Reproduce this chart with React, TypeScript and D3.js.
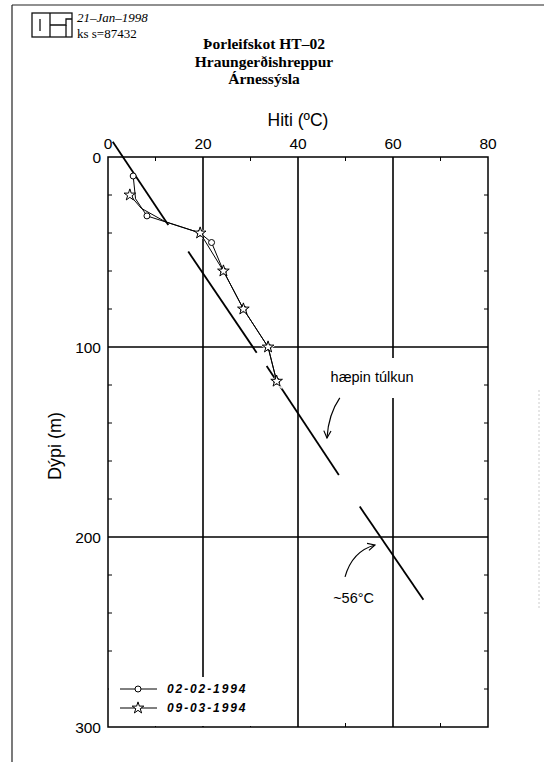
import React from "react";
import * as d3 from "d3";

// ---- data ----
const tempA = [5.3, 5.8, 8.2, 19.4, 21.8, 24.3, 28.5, 33.7, 35.5];
const depthA = [10, 22, 31, 40, 45, 60, 80, 100, 118];
const markA = [true, false, true, true, true, true, true, true, true];
const tempB = [4.6, 7.0, 12.0, 19.4, 24.3, 28.5, 33.7, 35.5];
const depthB = [20, 27, 34, 40, 60, 80, 100, 118];
const markB = [true, false, false, true, true, true, true, true];
const seriesLabels = ["02-02-1994", "09-03-1994"];

// interpretation line segments [start, end]
const fitTemp = [[1, 12.7], [16.9, 31.3], [33.4, 48.6], [53, 66.4]];
const fitDepth = [[-8, 35.8], [49.8, 103], [110, 167.4], [184, 233]];

const xTicksMajor = [0, 20, 40, 60, 80];
const yTicksMajor = [0, 100, 200, 300];
const xGrid = [20, 40, 60];
const yGrid = [100, 200];

const titleLines = ["Þorleifskot  HT–02", "Hraungerðishreppur", "Árnessýsla"];
const xLabel = "Hiti (ºC)";
const yLabel = "Dýpi (m)";
const headerDate = "21–Jan–1998";
const headerId = "ks s=87432";

// annotations in data units [temp, depth]
const note1 = { text: "hæpin túlkun", at: [55.6, 116], arrow: [[48.8, 126.8], [46.4, 135.5], [46.1, 147.9]] };
const note2 = { text: "~56°C", at: [47.4, 232], arrow: [[49.9, 221], [51.4, 207.5], [56.2, 204.2]] };

const SANS = "'Liberation Sans', Arial, sans-serif";
const SERIF = "'Liberation Serif', 'Times New Roman', serif";

export default function App() {
  const x = d3.scaleLinear().domain([0, 80]).range([108, 488]);
  const y = d3.scaleLinear().domain([0, 300]).range([157, 727]);
  const [x0, x1] = x.range();
  const [y0, y1] = y.range();

  const line = d3.line<[number, number]>().x((d) => x(d[0])).y((d) => y(d[1]));
  const ptsA: [number, number][] = tempA.map((t, i) => [t, depthA[i]]);
  const ptsB: [number, number][] = tempB.map((t, i) => [t, depthB[i]]);

  const star = d3.symbol().type(d3.symbolStar).size(42)()!;
  const starHalo = d3.symbol().type(d3.symbolStar).size(110)()!;

  const xMinor = d3.range(10, 80, 20);
  const yMinor = d3.range(20, 300, 20).filter((v) => v % 100 !== 0);

  const arrowPath = (pts: number[][]) =>
    `M${x(pts[0][0])},${y(pts[0][1])} Q${x(pts[1][0])},${y(pts[1][1])} ${x(pts[2][0])},${y(pts[2][1])}`;

  return (
    <svg width={544} height={762} style={{ position: "absolute", left: 0, top: 0, background: "#fff" }}>
      <defs>
        <marker id="ah" viewBox="0 0 10 10" refX="9" refY="5" markerWidth="9" markerHeight="9" orient="auto" markerUnits="userSpaceOnUse">
          <path d="M1,1 L9,5 L1,9" fill="none" stroke="#000" strokeWidth={1.3} />
        </marker>
      </defs>
      {/* page frame */}
      <line x1={12} y1={5} x2={544} y2={5} stroke="#222" strokeWidth={1.2} />
      <line x1={12} y1={5} x2={12} y2={762} stroke="#222" strokeWidth={1.2} />
      <line x1={539} y1={390} x2={539} y2={610} stroke="#ccc" strokeWidth={1} strokeDasharray="2,2" />

      {/* logo */}
      <g stroke="#111" strokeWidth={1.3} fill="none">
        <rect x={32} y={13} width={40} height={24} />
        <line x1={50} y1={13} x2={50} y2={37} />
        <line x1={40} y1={19} x2={40} y2={31} />
        <polyline points="72,19 66,19 66,25 50,25" />
        <polyline points="66,25 66,37" />
      </g>
      <text x={77} y={22} fontFamily={SERIF} fontStyle="italic" fontSize={13}>{headerDate}</text>
      <text x={77} y={38} fontFamily={SERIF} fontSize={13}>{headerId}</text>

      {/* title */}
      {titleLines.map((t, i) => (
        <text key={i} x={264} y={49 + i * 17.5} textAnchor="middle" fontFamily={SERIF} fontWeight="bold" fontSize={15.5}>{t}</text>
      ))}

      {/* axis title */}
      <text x={x(40)} y={126} textAnchor="middle" fontFamily={SANS} fontSize={17.5}>{xLabel}</text>
      <text transform={`translate(61,446) rotate(-90)`} textAnchor="middle" fontFamily={SANS} fontSize={18}>{yLabel}</text>

      {/* tick labels */}
      {xTicksMajor.map((v) => (
        <text key={v} x={x(v)} y={149} textAnchor="middle" fontFamily={SANS} fontSize={15.5}>{v}</text>
      ))}
      {yTicksMajor.map((v) => (
        <text key={v} x={101} y={y(v) + 5.5} textAnchor="end" fontFamily={SANS} fontSize={15.5}>{v}</text>
      ))}

      {/* grid */}
      {xGrid.map((v) => (
        <line key={v} x1={x(v)} x2={x(v)} y1={y0} y2={y1} stroke="#000" strokeWidth={1.6} />
      ))}
      {yGrid.map((v) => (
        <line key={v} x1={x0} x2={x1} y1={y(v)} y2={y(v)} stroke="#000" strokeWidth={1.6} />
      ))}

      {/* minor ticks */}
      {xMinor.map((v) => (
        <g key={v}>
          <line x1={x(v)} x2={x(v)} y1={y0} y2={y0 + 4} stroke="#000" strokeWidth={1} />
          <line x1={x(v)} x2={x(v)} y1={y1} y2={y1 - 4} stroke="#000" strokeWidth={1} />
        </g>
      ))}
      {yMinor.map((v) => (
        <g key={v}>
          <line x1={x0} x2={x0 + 4} y1={y(v)} y2={y(v)} stroke="#000" strokeWidth={1} />
          <line x1={x1} x2={x1 - 4} y1={y(v)} y2={y(v)} stroke="#000" strokeWidth={1} />
        </g>
      ))}

      {/* white boxes behind label and legend */}
      <rect x={322} y={358} width={100} height={40} fill="#fff" />
      <rect x={x0 + 1} y={677} width={150} height={y1 - 678} fill="#fff" />

      {/* plot border */}
      <rect x={x0} y={y0} width={x1 - x0} height={y1 - y0} fill="none" stroke="#000" strokeWidth={1.5} />

      {/* interpretation lines */}
      {fitTemp.map((t, i) => (
        <line key={i} x1={x(t[0])} y1={y(fitDepth[i][0])} x2={x(t[1])} y2={y(fitDepth[i][1])} stroke="#000" strokeWidth={1.8} />
      ))}

      {/* marker halos */}
      {ptsB.map((p, i) => markB[i] ? (
        <path key={i} d={starHalo} transform={`translate(${x(p[0])},${y(p[1])})`} fill="#fff" />
      ) : null)}

      {/* data lines */}
      <path d={line(ptsA)!} fill="none" stroke="#000" strokeWidth={1} />
      <path d={line(ptsB)!} fill="none" stroke="#000" strokeWidth={1} />

      {ptsA.map((p, i) => markA[i] ? (
        <circle key={i} cx={x(p[0])} cy={y(p[1])} r={3} fill="#fff" stroke="#000" strokeWidth={1} />
      ) : null)}
      {ptsB.map((p, i) => markB[i] ? (
        <path key={i} d={star} transform={`translate(${x(p[0])},${y(p[1])})`} fill="#fff" stroke="#000" strokeWidth={1} />
      ) : null)}

      {/* annotations */}
      <text x={x(note1.at[0])} y={y(note1.at[1]) + 5} textAnchor="middle" fontFamily={SANS} fontSize={14.5}>{note1.text}</text>
      <path d={arrowPath(note1.arrow)} fill="none" stroke="#000" strokeWidth={1.2} markerEnd="url(#ah)" />
      <text x={x(note2.at[0])} y={y(note2.at[1]) + 5} fontFamily={SANS} fontSize={14.5}>{note2.text}</text>
      <path d={arrowPath(note2.arrow)} fill="none" stroke="#000" strokeWidth={1.2} markerEnd="url(#ah)" />

      {/* legend */}
      {seriesLabels.map((s, i) => {
        const ly = 689 + i * 19;
        return (
          <g key={s}>
            <line x1={120} x2={157} y1={ly} y2={ly} stroke="#000" strokeWidth={1} />
            {i === 0 ? (
              <circle cx={138} cy={ly} r={3} fill="#fff" stroke="#000" strokeWidth={1} />
            ) : (
              <path d={star} transform={`translate(138,${ly})`} fill="#fff" stroke="#000" strokeWidth={1} />
            )}
            <text x={167} y={ly + 4} fontFamily={SANS} fontWeight="bold" fontStyle="italic" fontSize={12} letterSpacing={1.9}>{s}</text>
          </g>
        );
      })}
    </svg>
  );
}
